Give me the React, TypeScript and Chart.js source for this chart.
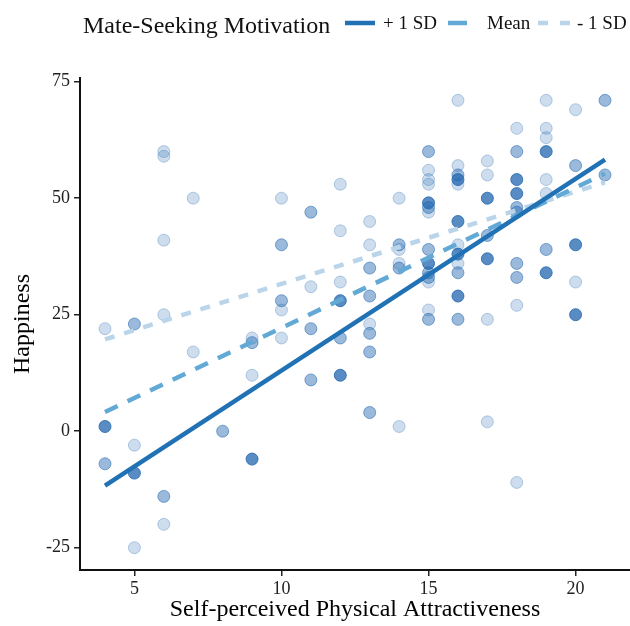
import React, { useEffect, useRef } from "react";
import { Chart, registerables } from "chart.js";

Chart.register(...registerables);

// +1 SD group (dark points)
const hiX = [4, 5, 9, 12, 12, 15, 15, 16, 16, 16, 16, 17, 17, 18, 18, 19, 19, 20, 20];
const hiY = [1, -9, -6, 28, 12, 49, 36, 54, 45, 38, 29, 50, 37, 54, 51, 60, 34, 40, 25];
// Mean group (medium points)
const midX = [4, 5, 6, 8, 9, 10, 10, 11, 11, 11, 12, 13, 13, 13, 13, 13, 14, 14, 15, 15, 15, 15, 15, 15, 16, 16, 16, 17, 18, 18, 18, 18, 18, 19, 20, 21, 21];
const midY = [-7, 23, -14, 0, 19, 40, 28, 47, 22, 11, 20, 35, 29, 21, 17, 4, 40, 35, 60, 48, 39, 34, 33, 24, 55, 34, 24, 42, 60, 48, 47, 36, 33, 39, 57, 71, 55];
// -1 SD group (light points)
const loX = [4, 5, 5, 6, 6, 6, 6, 6, 7, 7, 9, 9, 10, 10, 10, 11, 12, 12, 12, 13, 13, 13, 14, 14, 14, 14, 15, 15, 15, 15, 15, 15, 16, 16, 16, 16, 16, 17, 17, 17, 17, 18, 18, 18, 19, 19, 19, 19, 19, 20, 20];
const loY = [22, -3, -25, 60, 59, 41, 25, -20, 50, 17, 20, 12, 50, 26, 20, 31, 53, 43, 32, 45, 40, 23, 50, 39, 36, 1, 56, 54, 53, 47, 32, 26, 71, 57, 53, 40, 36, 58, 55, 24, 2, 65, 27, -11, 71, 65, 63, 54, 51, 69, 32];

// Simple-slope lines (x from 4 to 21)
const lineX = [4, 21];
const hiLineY = [-11.7, 58.3];
const midLineY = [4.1, 55.3];
const loLineY = [19.7, 53.4];

const xTicks = [5, 10, 15, 20];
const yTicks = [-25, 0, 25, 50, 75];
const legendTitle = "Mate-Seeking Motivation";
const legendLabels = ["+ 1 SD", "Mean", "- 1 SD"];
const xTitle = "Self-perceived Physical Attractiveness";
const yTitle = "Happiness";

const zip = (xs: number[], ys: number[]) => xs.map((x, i) => ({ x, y: ys[i] }));

const FONT = "'Liberation Serif', 'DejaVu Serif', serif";

export default function App() {
  const ref = useRef<HTMLCanvasElement | null>(null);

  useEffect(() => {
    if (!ref.current) return;
    const pt = (a: number) => `rgba(33,102,175,${a})`;
    const zeroPad = (axis: any) => {
      axis.paddingLeft = 0;
      axis.paddingRight = 0;
      axis.paddingTop = 0;
      axis.paddingBottom = 0;
    };
    const chart = new Chart(ref.current, {
      type: "scatter",
      data: {
        datasets: [
          {
            type: "line",
            label: legendLabels[0],
            data: zip(lineX, hiLineY),
            borderColor: "#2171b5",
            borderWidth: 4.5,
            pointRadius: 0,
            fill: false,
          },
          {
            type: "line",
            label: legendLabels[1],
            data: zip(lineX, midLineY),
            borderColor: "#62a9d6",
            borderWidth: 4.5,
            borderDash: [14, 11],
            pointRadius: 0,
            fill: false,
          },
          {
            type: "line",
            label: legendLabels[2],
            data: zip(lineX, loLineY),
            borderColor: "#bad5ea",
            borderWidth: 4.5,
            borderDash: [10, 10],
            pointRadius: 0,
            fill: false,
          },
          {
            label: "hi",
            data: zip(hiX, hiY),
            backgroundColor: pt(0.75),
            borderColor: pt(0.82),
            borderWidth: 1,
            pointRadius: 6,
          },
          {
            label: "mid",
            data: zip(midX, midY),
            backgroundColor: pt(0.45),
            borderColor: pt(0.55),
            borderWidth: 1,
            pointRadius: 6,
          },
          {
            label: "lo",
            data: zip(loX, loY),
            backgroundColor: pt(0.22),
            borderColor: pt(0.3),
            borderWidth: 1,
            pointRadius: 6,
          },
        ],
      },
      options: {
        responsive: false,
        animation: false,
        layout: { autoPadding: false, padding: { top: 78, right: 0, left: 0, bottom: 0 } },
        plugins: { legend: { display: false }, tooltip: { enabled: false } },
        scales: {
          x: {
            type: "linear",
            min: 3.15,
            max: 21.85,
            afterBuildTicks: (axis: any) => {
              axis.ticks = xTicks.map((v) => ({ value: v }));
            },
            afterFit: (axis: any) => {
              axis.height = 56;
              zeroPad(axis);
            },
            grid: { drawOnChartArea: false, tickLength: 6, color: "#222", lineWidth: 1.5 },
            border: { color: "#111", width: 2 },
            ticks: { color: "#222", font: { family: FONT, size: 18 }, padding: 2, maxRotation: 0 },
            title: {
              display: true,
              text: xTitle,
              color: "#000",
              font: { family: FONT, size: 24 },
              padding: { top: 0, bottom: 2 },
            },
          },
          y: {
            type: "linear",
            min: -29.8,
            max: 75.8,
            afterBuildTicks: (axis: any) => {
              axis.ticks = yTicks.map((v) => ({ value: v }));
            },
            afterFit: (axis: any) => {
              axis.width = 80;
              zeroPad(axis);
            },
            grid: { drawOnChartArea: false, tickLength: 6, color: "#222", lineWidth: 1.5 },
            border: { color: "#111", width: 2 },
            ticks: { color: "#222", font: { family: FONT, size: 18 }, padding: 4 },
            title: {
              display: true,
              text: yTitle,
              color: "#000",
              font: { family: FONT, size: 24 },
              padding: { top: 8, bottom: 0 },
            },
          },
        },
      },
    } as any);
    return () => chart.destroy();
  }, []);

  const sample = (left: number, width: number, dash: string, color: string) => (
    <svg width={width} height={10} style={{ position: "absolute", left, top: 18 }}>
      <line x1={0} y1={5} x2={width} y2={5} stroke={color} strokeWidth={4.5} strokeDasharray={dash} />
    </svg>
  );
  const label = (left: number, size: number, baseline: number, text: string) => (
    <span
      style={{
        position: "absolute",
        left,
        top: baseline - size * 0.9375,
        fontSize: size,
        lineHeight: `${size * 1.2}px`,
        fontFamily: FONT,
        color: "#111",
        whiteSpace: "nowrap",
      }}
    >
      {text}
    </span>
  );

  return (
    <div style={{ position: "fixed", left: 0, top: 0, width: 630, height: 626, background: "#fff" }}>
      <canvas ref={ref} width={630} height={626} style={{ display: "block" }} />
      {label(83, 24, 33, legendTitle)}
      {sample(345, 30, "none", "#2171b5")}
      {label(383, 19, 29.5, legendLabels[0])}
      {sample(448, 19, "none", "#62a9d6")}
      {label(487, 19, 29.5, legendLabels[1])}
      {sample(538, 32, "10 12", "#bad5ea")}
      {label(577, 19, 29.5, legendLabels[2])}
    </div>
  );
}
